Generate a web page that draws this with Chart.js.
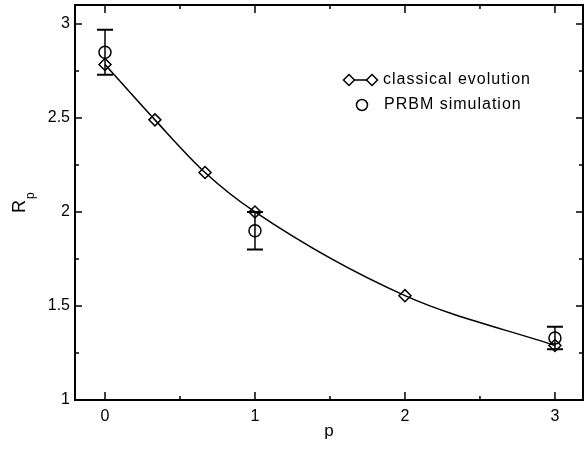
<!DOCTYPE html>
<html lang="en">
<head>
  <meta charset="UTF-8" />
  <title>R_p vs p</title>
  <script src="https://cdn.jsdelivr.net/npm/chart.js"></script>
  <style>
    body {
      margin: 0;
      padding: 0;
      background: #fff;
    }

    .chart-container {
      width: 584px;
      height: 449px;
    }
  </style>
</head>
<body>
  <div class="chart-container">
    <canvas id="rpChart"></canvas>
  </div>

  <script>
    // classical evolution (diamonds + line)
    const classicalP = [0, 0.333, 0.667, 1, 2, 3];
    const classicalR = [2.785, 2.49, 2.21, 2.0, 1.555, 1.29];
    // PRBM simulation (circles with error bars)
    const prbmP = [0, 1, 3];
    const prbmR = [2.85, 1.90, 1.33];
    const prbmLow = [2.73, 1.80, 1.27];
    const prbmHigh = [2.97, 2.00, 1.39];
    const seriesNames = ['classical evolution', 'PRBM simulation'];
    // tick values
    const xTickValues = [0, 1, 2, 3];
    const xMinorValues = [0.5, 1.5, 2.5];
    const yTickValues = [1, 1.5, 2, 2.5, 3];
    const yMinorValues = [1.25, 1.75, 2.25, 2.75];

    const FONT = 'Liberation Sans, Arial, Helvetica, sans-serif';

    // frame, inward ticks, error bars, legend and y title
    const framePlugin = {
      id: 'frame',
      afterDatasetsDraw(chart) {
        const ctx = chart.ctx;
        const xs = chart.scales.x;
        const ys = chart.scales.y;
        ctx.save();
        ctx.strokeStyle = '#000';
        prbmP.forEach((p, i) => {
          const x = xs.getPixelForValue(p);
          const yl = ys.getPixelForValue(prbmLow[i]);
          const yh = ys.getPixelForValue(prbmHigh[i]);
          ctx.lineWidth = 1.5;
          ctx.beginPath();
          ctx.moveTo(x, yl);
          ctx.lineTo(x, yh);
          ctx.stroke();
          ctx.lineWidth = 2;
          ctx.beginPath();
          ctx.moveTo(x - 8, yl);
          ctx.lineTo(x + 8, yl);
          ctx.moveTo(x - 8, yh);
          ctx.lineTo(x + 8, yh);
          ctx.stroke();
        });
        ctx.restore();
      },
      afterDraw(chart) {
        const ctx = chart.ctx;
        const {left, right, top, bottom} = chart.chartArea;
        const xs = chart.scales.x;
        const ys = chart.scales.y;
        ctx.save();
        ctx.strokeStyle = '#000';
        ctx.fillStyle = '#000';

        // ticks (pointing inward on all four sides)
        ctx.lineWidth = 1.5;
        ctx.beginPath();
        const xTick = (v, len) => {
          const x = xs.getPixelForValue(v);
          ctx.moveTo(x, bottom); ctx.lineTo(x, bottom - len);
          ctx.moveTo(x, top); ctx.lineTo(x, top + len);
        };
        const yTick = (v, len) => {
          const y = ys.getPixelForValue(v);
          ctx.moveTo(left, y); ctx.lineTo(left + len, y);
          ctx.moveTo(right, y); ctx.lineTo(right - len, y);
        };
        xTickValues.forEach(v => xTick(v, 8));
        xMinorValues.forEach(v => xTick(v, 4));
        yTickValues.forEach(v => yTick(v, 7));
        yMinorValues.forEach(v => yTick(v, 4));
        ctx.stroke();

        // frame
        ctx.lineWidth = 2;
        ctx.strokeRect(left, top, right - left, bottom - top);

        // legend
        const ds0 = chart.data.datasets[0];
        const ds1 = chart.data.datasets[1];
        ctx.lineWidth = 1.5;
        ctx.beginPath();
        ctx.moveTo(349, 80);
        ctx.lineTo(372, 80);
        ctx.stroke();
        const mk = (style, x, y) => Chart.helpers.drawPoint(ctx, {
          pointStyle: style, radius: 5.5, borderWidth: 1.5, rotation: 0
        }, x, y);
        ctx.fillStyle = '#fff';
        mk('rectRot', 349, 80);
        mk('rectRot', 372, 80);
        mk('circle', 362, 105);
        ctx.fillStyle = '#000';
        ctx.font = '16px ' + FONT;
        ctx.letterSpacing = '1px';
        ctx.textBaseline = 'middle';
        ctx.textAlign = 'left';
        ctx.fillText(ds0.label, 383, 80);
        ctx.fillText(ds1.label, 384, 105);
        ctx.letterSpacing = '0px';

        // y title R_p
        ctx.translate(25, 213);
        ctx.rotate(-Math.PI / 2);
        ctx.textBaseline = 'alphabetic';
        ctx.font = '18px ' + FONT;
        ctx.fillText('R', 0, 0);
        ctx.font = '12px ' + FONT;
        ctx.fillText('p', 14, 9);
        ctx.restore();
      }
    };

    const ctx = document.getElementById('rpChart').getContext('2d');
    new Chart(ctx, {
      type: 'scatter',
      data: {
        datasets: [{
          label: seriesNames[0],
          data: classicalP.map((p, i) => ({x: p, y: classicalR[i]})),
          showLine: true,
          borderColor: '#000',
          borderWidth: 1.5,
          cubicInterpolationMode: 'monotone',
          pointStyle: 'rectRot',
          pointRadius: 6,
          pointBorderWidth: 1.5,
          pointBorderColor: '#000',
          pointBackgroundColor: 'rgba(0,0,0,0)'
        }, {
          label: seriesNames[1],
          data: prbmP.map((p, i) => ({x: p, y: prbmR[i]})),
          showLine: false,
          pointStyle: 'circle',
          pointRadius: 6,
          pointBorderWidth: 1.5,
          pointBorderColor: '#000',
          pointBackgroundColor: 'rgba(0,0,0,0)'
        }]
      },
      options: {
        responsive: true,
        maintainAspectRatio: false,
        animation: false,
        layout: {
          autoPadding: false,
          padding: {top: 5, right: 1, left: 0, bottom: 0}
        },
        plugins: {
          legend: {display: false},
          tooltip: {enabled: false}
        },
        scales: {
          x: {
            type: 'linear',
            min: -0.2,
            max: 3.187,
            grid: {display: false, drawTicks: false},
            border: {display: false},
            afterBuildTicks: s => { s.ticks = xTickValues.map(v => ({value: v})); },
            afterFit: s => { s.height = 49; s.paddingLeft = 0; s.paddingRight = 0; },
            ticks: {
              padding: 7,
              color: '#000',
              maxRotation: 0,
              autoSkip: false,
              font: {family: FONT, size: 16},
              callback: v => String(v)
            },
            title: {
              display: true,
              text: 'p',
              color: '#000',
              font: {family: FONT, size: 17},
              padding: {top: 0, bottom: 7}
            }
          },
          y: {
            type: 'linear',
            min: 1,
            max: 3.101,
            grid: {display: false, drawTicks: false},
            border: {display: false},
            afterBuildTicks: s => { s.ticks = yTickValues.map(v => ({value: v})); },
            afterFit: s => { s.width = 75; s.paddingTop = 0; s.paddingBottom = 0; },
            ticks: {
              padding: 5,
              color: '#000',
              autoSkip: false,
              font: {family: FONT, size: 16},
              callback: v => String(v)
            }
          }
        }
      },
      plugins: [framePlugin]
    });
  </script>
</body>
</html>
